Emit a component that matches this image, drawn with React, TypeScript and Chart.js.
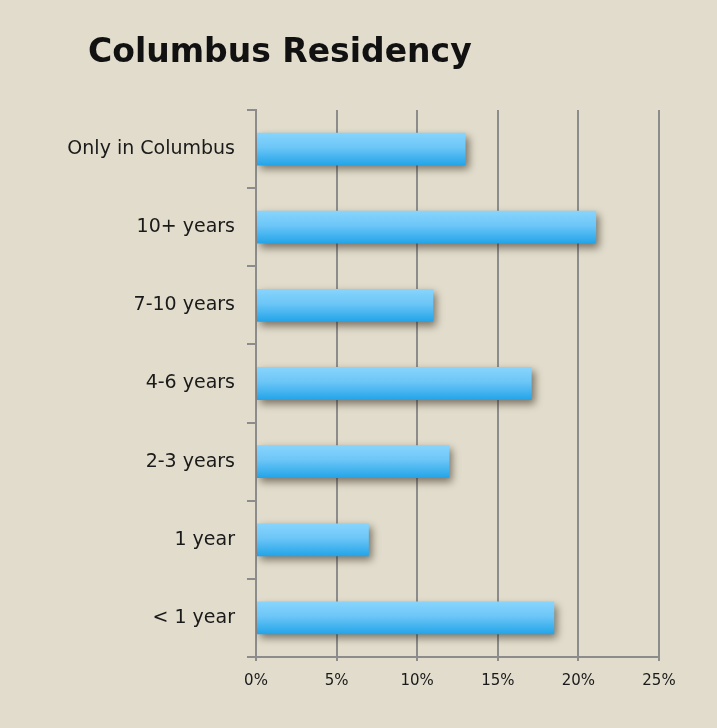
import React, { useEffect, useRef } from "react";
import { Chart, registerables } from "chart.js";

Chart.register(...registerables);

const categories = [
  "Only in Columbus",
  "10+ years",
  "7-10 years",
  "4-6 years",
  "2-3 years",
  "1 year",
  "< 1 year",
];
const values = [13.0, 21.1, 11.0, 17.1, 12.0, 7.0, 18.5];
const xTicks = [0, 5, 10, 15, 20, 25];
const title = "Columbus Residency";

const BG = "#e1dccb";
const GRID = "#8c8c8c";
const BAR_PCT = 0.42;
const FONT = "DejaVu Sans";

const shadowPlugin = {
  id: "barShadow",
  beforeDatasetsDraw(chart: any) {
    const c = chart.ctx;
    c.save();
    c.shadowColor = "rgba(40,30,20,0.55)";
    c.shadowBlur = 8;
    c.shadowOffsetX = 3;
    c.shadowOffsetY = 4;
  },
  afterDatasetsDraw(chart: any) {
    chart.ctx.restore();
  },
};

const bgPlugin = {
  id: "bg",
  beforeDraw(chart: any) {
    const c = chart.ctx;
    c.save();
    c.fillStyle = BG;
    c.fillRect(0, 0, chart.width, chart.height);
    c.restore();
  },
};

// Title drawn left-aligned, offset from the plot area like the original slide
const titlePlugin = {
  id: "slideTitle",
  afterDraw(chart: any) {
    const c = chart.ctx;
    c.save();
    c.fillStyle = "#111";
    c.font = `bold 33px "${FONT}"`;
    c.textAlign = "left";
    c.textBaseline = "alphabetic";
    c.fillText(title, chart.chartArea.left - 168, 62);
    c.restore();
  },
};

export default function App() {
  const ref = useRef<HTMLCanvasElement>(null);
  useEffect(() => {
    document.body.style.margin = "0";
    document.body.style.background = BG;
    const canvas = ref.current!;
    const chart = new Chart(canvas, {
      type: "bar",
      data: {
        labels: categories,
        datasets: [
          {
            data: values,
            barPercentage: BAR_PCT,
            categoryPercentage: 1,
            borderWidth: 0,
            backgroundColor: (ctx: any) => {
              const ch = ctx.chart;
              const scale = ch.scales?.y;
              if (!scale || ctx.dataIndex === undefined) return "#4ab8f0";
              const y = scale.getPixelForValue(ctx.dataIndex);
              const half = (scale.height / categories.length) * BAR_PCT / 2;
              if (!isFinite(y) || !isFinite(half) || half <= 0) return "#4ab8f0";
              const g = ch.ctx.createLinearGradient(0, y - half, 0, y + half);
              g.addColorStop(0, "#88d5fd");
              g.addColorStop(0.45, "#6cc6f7");
              g.addColorStop(1, "#22a4e8");
              return g;
            },
          },
        ],
      },
      options: {
        indexAxis: "y",
        responsive: false,
        animation: false,
        layout: { padding: { left: 40, right: 58, top: 110, bottom: 30 } },
        plugins: {
          legend: { display: false },
          tooltip: { enabled: false },
          title: { display: false },
        },
        scales: {
          x: {
            min: 0,
            max: 25,
            afterBuildTicks: (scale: any) => {
              scale.ticks = xTicks.map((v) => ({ value: v }));
            },
            afterFit: (scale: any) => {
              scale.height = 41;
            },
            grid: {
              color: GRID,
              lineWidth: 2,
              drawTicks: true,
              tickLength: 4,
            },
            border: { color: GRID, width: 2 },
            ticks: {
              color: "#1a1a1a",
              font: { family: FONT, size: 15 },
              padding: 11,
              callback: (v: any) => v + "%",
            },
          },
          y: {
            afterFit: (scale: any) => {
              scale.width = 216;
            },
            grid: {
              drawOnChartArea: false,
              drawTicks: true,
              tickLength: 9,
              color: GRID,
              lineWidth: 2,
            },
            border: { color: GRID, width: 2 },
            ticks: {
              color: "#1a1a1a",
              font: { family: FONT, size: 19 },
              padding: 12,
            },
          },
        },
      },
      plugins: [bgPlugin, shadowPlugin, titlePlugin],
    });
    return () => chart.destroy();
  }, []);
  return (
    <div style={{ position: "absolute", left: 0, top: 0, width: 717, height: 728, background: BG }}>
      <canvas ref={ref} width={717} height={728} style={{ display: "block" }} />
    </div>
  );
}
